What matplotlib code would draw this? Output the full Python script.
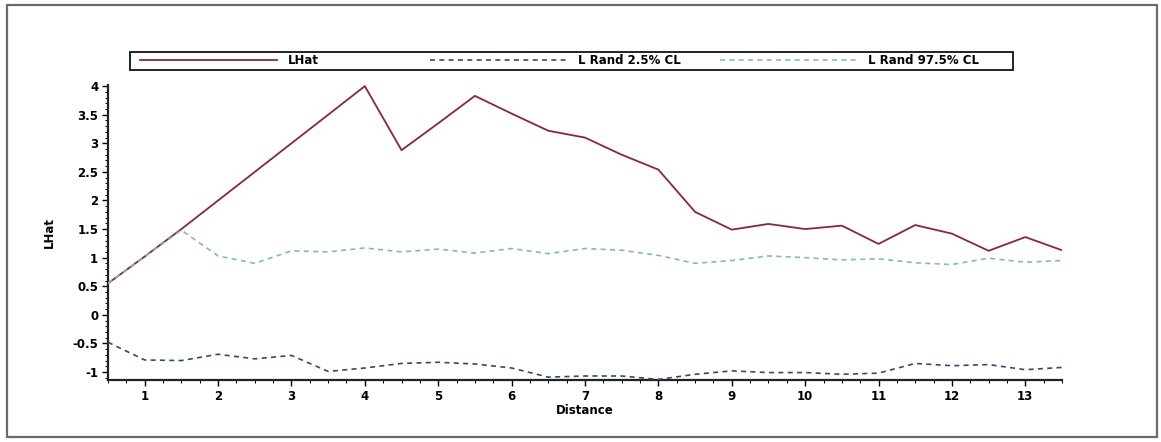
#!/usr/bin/env python3
"""Ripley's L-hat against distance with random-labelling confidence limits."""

from __future__ import annotations

import matplotlib

matplotlib.use("Agg")
import matplotlib.pyplot as plt
from matplotlib.patches import Rectangle
from matplotlib.ticker import FuncFormatter, MultipleLocator


DISTANCE = [0.5, 1.0, 1.5, 2.0, 2.5, 3.0, 3.5, 4.0, 4.5, 5.0, 5.5, 6.0, 6.5, 7.0,
            7.5, 8.0, 8.5, 9.0, 9.5, 10.0, 10.5, 11.0, 11.5, 12.0, 12.5, 13.0, 13.5]
LHAT = [0.55, 1.02, 1.5, 2.0, 2.5, 3.0, 3.5, 4.0, 2.88, 3.35, 3.83, 3.52, 3.22, 3.1,
        2.8, 2.54, 1.8, 1.49, 1.59, 1.5, 1.56, 1.24, 1.57, 1.42, 1.12, 1.36, 1.13]
L_RAND_LOW = [-0.48, -0.79, -0.8, -0.69, -0.77, -0.71, -0.99, -0.93, -0.85, -0.83,
              -0.86, -0.93, -1.09, -1.07, -1.07, -1.13, -1.04, -0.98, -1.01, -1.01,
              -1.04, -1.02, -0.85, -0.89, -0.87, -0.96, -0.92]
L_RAND_HIGH = [0.55, 1.02, 1.48, 1.03, 0.9, 1.12, 1.1, 1.17, 1.1, 1.15, 1.08, 1.16,
               1.07, 1.16, 1.13, 1.04, 0.9, 0.95, 1.03, 1.0, 0.96, 0.98, 0.91, 0.88,
               0.99, 0.92, 0.95]

LABELS = ["LHat", "L Rand 2.5% CL", "L Rand 97.5% CL"]
X_TICKS = [1, 2, 3, 4, 5, 6, 7, 8, 9, 10, 11, 12, 13]
Y_TICKS = [-1, -0.5, 0, 0.5, 1, 1.5, 2, 2.5, 3, 3.5, 4]

RED = "#8c2636"
BLUE = "#2f4a72"
TEAL = "#7dbdb0"
DASH = (0, (3.0, 2.6))
FONT = {"family": "DejaVu Sans", "weight": "bold", "size": 8.5}

W, H = 1161, 442


def fx(px: float) -> float:
    return px / W


def fy(py: float) -> float:
    return 1.0 - py / H


def main() -> int:
    fig = plt.figure(figsize=(W / 100, H / 100), dpi=100)
    fig.patch.set_facecolor("white")

    # outer frame of the exported graph
    fig.add_artist(Rectangle((fx(7), fy(437)), fx(1157) - fx(7), fy(5) - fy(437),
                             transform=fig.transFigure, fill=False,
                             edgecolor="#6a6a6a", linewidth=1.6))

    ax = fig.add_axes((fx(108), fy(380), fx(1062) - fx(108), fy(85) - fy(380)))
    line_hat, = ax.plot(DISTANCE, LHAT, color=RED, linewidth=1.3, zorder=3)
    line_low, = ax.plot(DISTANCE, L_RAND_LOW, color=BLUE, linewidth=1.2,
                        linestyle=DASH, zorder=4)
    line_high, = ax.plot(DISTANCE, L_RAND_HIGH, color=TEAL, linewidth=1.2,
                         linestyle=DASH, zorder=4)

    ax.set_xlim(0.5, 13.5)
    ax.set_ylim(-1.14, 4.02)
    ax.set_xticks(X_TICKS)
    ax.set_yticks(Y_TICKS)
    ax.xaxis.set_minor_locator(MultipleLocator(0.25))
    ax.yaxis.set_minor_locator(MultipleLocator(0.1))
    ax.yaxis.set_major_formatter(FuncFormatter(lambda v, _p: f"{v:g}".replace("\u2212", "-")))
    ax.tick_params(which="major", direction="out", length=4, width=1.0, pad=3)
    ax.tick_params(which="minor", direction="out", length=2, width=0.7)
    for lab in ax.get_xticklabels() + ax.get_yticklabels():
        lab.set_fontproperties(matplotlib.font_manager.FontProperties(**FONT))

    for side in ("top", "right"):
        ax.spines[side].set_visible(False)
    for side in ("left", "bottom"):
        ax.spines[side].set_linewidth(1.6)
        ax.spines[side].set_color("#222222")

    ax.set_xlabel("Distance", fontdict=FONT, labelpad=1)
    ax.set_ylabel("LHat", fontdict=FONT, labelpad=12)

    # legend: one framed strip, three evenly spaced entries
    fig.add_artist(Rectangle((fx(130), fy(70)), fx(1013) - fx(130), fy(52) - fy(70),
                             transform=fig.transFigure, fill=False,
                             edgecolor="#222222", linewidth=1.4))
    fpx = FONT["size"] * 100 / 72
    for handle, label, start in zip((line_hat, line_low, line_high), LABELS, (140, 430, 720)):
        fig.legend([handle], [label], loc="center left",
                   bbox_to_anchor=(fx(start), fy(61)), bbox_transform=fig.transFigure,
                   frameon=False, borderpad=0, borderaxespad=0,
                   handlelength=137 / fpx, handletextpad=11 / fpx,
                   prop=matplotlib.font_manager.FontProperties(**FONT))

    fig.savefig("out.png", dpi=100)
    plt.close(fig)
    return 0


if __name__ == "__main__":
    raise SystemExit(main())
